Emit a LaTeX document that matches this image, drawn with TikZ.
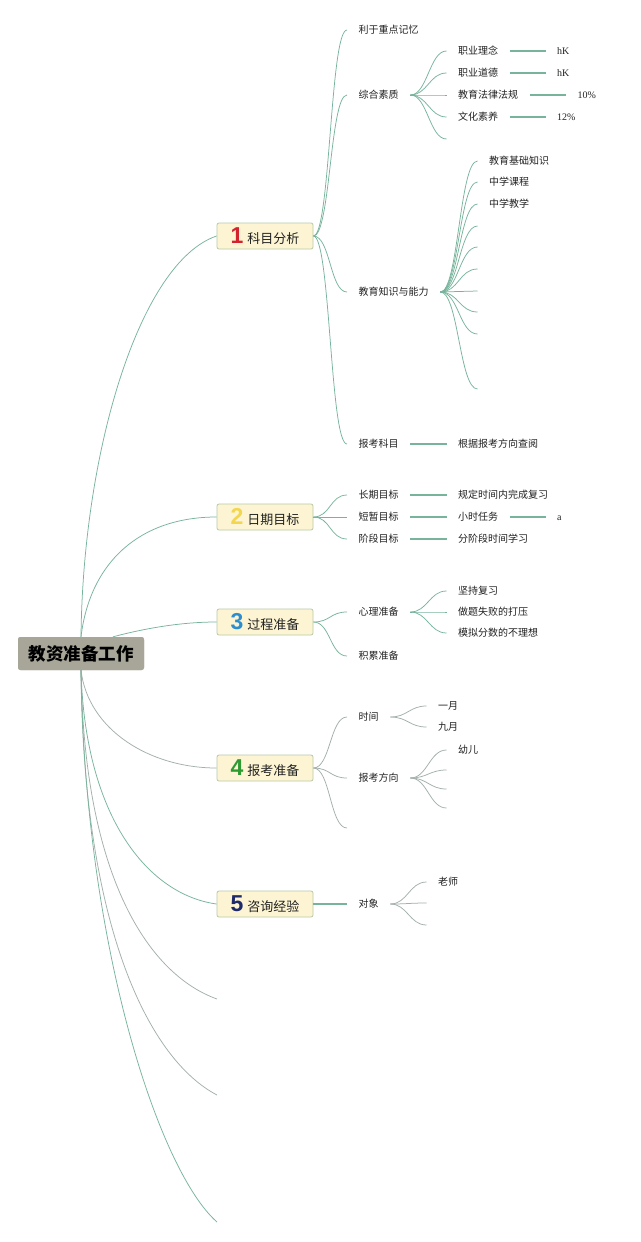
\documentclass[tikz,border=0pt]{standalone}
\usepackage{fontspec}
\newfontfamily\cjk{Noto Sans CJK SC}
\newfontfamily\dig{Liberation Sans}
\newfontfamily\ser{Liberation Serif}
\definecolor{boxF}{HTML}{FCF4D2}
\definecolor{boxB}{HTML}{B8CBA6}
\definecolor{rootF}{HTML}{A8A698}
\definecolor{lineC}{HTML}{78B49C}
\definecolor{lineG}{HTML}{A3B0AA}
\definecolor{txt}{HTML}{222222}
\definecolor{d1}{HTML}{D3232C}
\definecolor{d2}{HTML}{F3D64F}
\definecolor{d3}{HTML}{2D8ECF}
\definecolor{d4}{HTML}{2E9A32}
\definecolor{d5}{HTML}{1F2A6B}
\begin{document}
\begin{tikzpicture}[x=1pt,y=-1pt,
  conn/.style={draw=lineC,line width=0.75pt},
  conng/.style={draw=lineG,line width=0.75pt},
  hconn/.style={draw=lineC,line width=1.1pt},
  leaf/.style={anchor=west,inner xsep=11.5pt,inner ysep=1pt,text height=8.8pt,text depth=1.2pt,text=txt,font=\cjk\fontsize{10}{12}\selectfont},
  num/.style={anchor=west,inner xsep=11.5pt,inner ysep=1pt,text height=8.8pt,text depth=1.2pt,text=txt,font=\ser\fontsize{10}{12}\selectfont},
  branch/.style={draw=boxB,fill=boxF,rounded corners=2pt,minimum width=96pt,minimum height=26pt,inner sep=0pt,line width=0.8pt,text=txt},
  digit/.style={font=\dig\bfseries\fontsize{23}{23}\selectfont},
  rootbox/.style={fill=rootF,rounded corners=2.5pt,minimum width=126pt,minimum height=33pt,inner sep=0pt,text=black,font=\cjk\bfseries\fontsize{17.5}{20}\selectfont}
]
\useasboundingbox[fill=white] (0,0) rectangle (640,1242);

% ---------- root and branches ----------
\node[rootbox] (root) at (81,653.5) {教资准备工作};
\node[branch] (n1) at (265,236) {\textcolor{d1}{\dig\bfseries\fontsize{23}{23}\selectfont 1}\hspace{4pt}{\cjk\fontsize{13}{15}\selectfont 科目分析}};
\node[branch] (n2) at (265,517) {\textcolor{d2}{\dig\bfseries\fontsize{23}{23}\selectfont 2}\hspace{4pt}{\cjk\fontsize{13}{15}\selectfont 日期目标}};
\node[branch] (n3) at (265,622) {\textcolor{d3}{\dig\bfseries\fontsize{23}{23}\selectfont 3}\hspace{4pt}{\cjk\fontsize{13}{15}\selectfont 过程准备}};
\node[branch] (n4) at (265,768) {\textcolor{d4}{\dig\bfseries\fontsize{23}{23}\selectfont 4}\hspace{4pt}{\cjk\fontsize{13}{15}\selectfont 报考准备}};
\node[branch] (n5) at (265,904) {\textcolor{d5}{\dig\bfseries\fontsize{23}{23}\selectfont 5}\hspace{4pt}{\cjk\fontsize{13}{15}\selectfont 咨询经验}};
\coordinate (e1) at (217,999);
\coordinate (e2) at (217,1095);
\coordinate (e3) at (217,1222);

\draw[conn] (root.north) .. controls (83,450) and (140,262) .. (n1.west);
\draw[conn] (root.north) .. controls (90,562) and (140,517) .. (n2.west);
\draw[conn] ([xshift=32pt]root.north) .. controls (150,627) and (185,622) .. (n3.west);
\draw[conng] (root.south) .. controls (88,730) and (150,768) .. (n4.west);
\draw[conn] (root.south) .. controls (85,820) and (150,895) .. (n5.west);
\draw[conng] (root.south) .. controls (84,880) and (150,975) .. (e1);
\draw[conng] (root.south) .. controls (83,930) and (150,1060) .. (e2);
\draw[conn] (root.south) .. controls (85,950) and (160,1172) .. (e3);

% ---------- branch 1 ----------
\node[leaf] (a1) at (347,30) {利于重点记忆};
\node[leaf] (a2) at (347,95) {综合素质};
\node[leaf] (a3) at (347,292) {教育知识与能力};
\node[leaf] (a4) at (347,444) {报考科目};
\foreach \c in {a1,a2,a3,a4}
  \draw[conn] (n1.east) .. controls +(17,0) and +(-17,0) .. (\c.west);

\node[leaf] (b1) at (446.5,51) {职业理念};
\node[leaf] (b2) at (446.5,73) {职业道德};
\node[leaf] (b3) at (446.5,95) {教育法律法规};
\node[leaf] (b4) at (446.5,117) {文化素养};
\coordinate (b5) at (446.5,139);
\foreach \c in {b1,b2,b3,b4}
  \draw[conn] (a2.east) .. controls +(17,0) and +(-17,0) .. (\c.west);
\draw[conn] (a2.east) .. controls +(17,0) and +(-17,0) .. (b5);
\node[num] (k1) at (545.5,51) {hK};
\node[num] (k2) at (545.5,73) {hK};
\node[num] (k3) at (566,95) {10\%};
\node[num] (k4) at (545.5,117) {12\%};
\draw[hconn] (b1.east) -- (k1.west);
\draw[hconn] (b2.east) -- (k2.west);
\draw[hconn] (b3.east) -- (k3.west);
\draw[hconn] (b4.east) -- (k4.west);

\node[leaf] (c1) at (477.5,161) {教育基础知识};
\node[leaf] (c2) at (477.5,182) {中学课程};
\node[leaf] (c3) at (477.5,204) {中学教学};
\foreach \c in {c1,c2,c3}
  \draw[conn] (a3.east) .. controls +(18,0) and +(-18,0) .. (\c.west);
\foreach \y [count=\i] in {226,247,269,291,312,334,389}{
  \coordinate (cc\i) at (477.5,\y);
  \draw[conn] (a3.east) .. controls +(18,0) and +(-18,0) .. (cc\i);
}

\node[leaf] (d1n) at (446.5,444) {根据报考方向查阅};
\draw[hconn] (a4.east) -- (d1n.west);

% ---------- branch 2 ----------
\node[leaf] (f1) at (347,495) {长期目标};
\node[leaf] (f2) at (347,517) {短暂目标};
\node[leaf] (f3) at (347,539) {阶段目标};
\foreach \c in {f1,f2,f3}
  \draw[conn] (n2.east) .. controls +(17,0) and +(-17,0) .. (\c.west);
\node[leaf] (g1) at (446.5,495) {规定时间内完成复习};
\node[leaf] (g2) at (446.5,517) {小时任务};
\node[leaf] (g3) at (446.5,539) {分阶段时间学习};
\draw[hconn] (f1.east) -- (g1.west);
\draw[hconn] (f2.east) -- (g2.west);
\draw[hconn] (f3.east) -- (g3.west);
\node[num] (h1) at (545.5,517) {a};
\draw[hconn] (g2.east) -- (h1.west);

% ---------- branch 3 ----------
\node[leaf] (p1) at (347,612) {心理准备};
\node[leaf] (p2) at (347,656) {积累准备};
\foreach \c in {p1,p2}
  \draw[conn] (n3.east) .. controls +(17,0) and +(-17,0) .. (\c.west);
\node[leaf] (q1) at (446.5,591) {坚持复习};
\node[leaf] (q2) at (446.5,612) {做题失败的打压};
\node[leaf] (q3) at (446.5,633) {模拟分数的不理想};
\foreach \c in {q1,q2,q3}
  \draw[conn] (p1.east) .. controls +(17,0) and +(-17,0) .. (\c.west);

% ---------- branch 4 ----------
\node[leaf] (r1) at (347,717) {时间};
\node[leaf] (r2) at (347,778) {报考方向};
\coordinate (r3) at (347,828);
\foreach \c in {r1,r2}
  \draw[conng] (n4.east) .. controls +(17,0) and +(-17,0) .. (\c.west);
\draw[conng] (n4.east) .. controls +(17,0) and +(-17,0) .. (r3);
\node[leaf] (s1) at (426.5,706) {一月};
\node[leaf] (s2) at (426.5,727) {九月};
\foreach \c in {s1,s2}
  \draw[conng] (r1.east) .. controls +(17,0) and +(-17,0) .. (\c.west);
\node[leaf] (t1) at (446.5,750) {幼儿};
\draw[conng] (r2.east) .. controls +(17,0) and +(-17,0) .. (t1.west);
\foreach \y [count=\i] in {770,789,808}{
  \coordinate (tt\i) at (446.5,\y);
  \draw[conng] (r2.east) .. controls +(17,0) and +(-17,0) .. (tt\i);
}

% ---------- branch 5 ----------
\node[leaf] (u1) at (347,904) {对象};
\draw[hconn] (n5.east) -- (u1.west);
\node[leaf] (v1) at (426.5,882) {老师};
\coordinate (v2) at (426.5,903);
\coordinate (v3) at (426.5,925);
\draw[conng] (u1.east) .. controls +(17,0) and +(-17,0) .. (v1.west);
\draw[conng] (u1.east) .. controls +(17,0) and +(-17,0) .. (v2);
\draw[conng] (u1.east) .. controls +(17,0) and +(-17,0) .. (v3);

% redraw root on top of its connectors
\node[rootbox] at (root.center) {教资准备工作};
\end{tikzpicture}
\end{document}
